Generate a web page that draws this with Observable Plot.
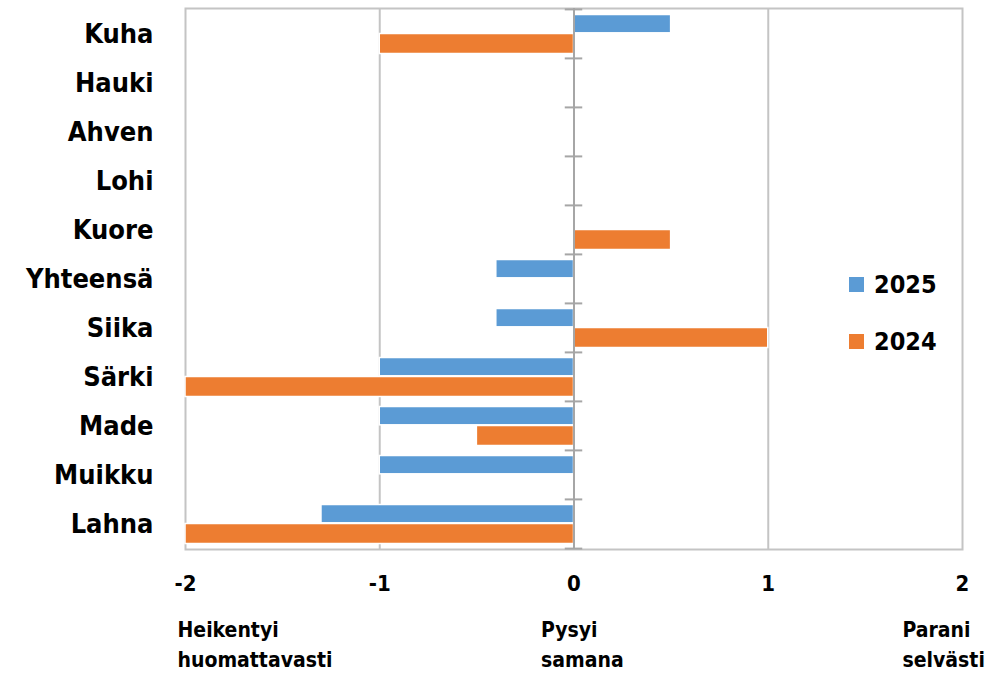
<!DOCTYPE html>
<html>
<head>
<meta charset="utf-8">
<script src="https://cdn.jsdelivr.net/npm/d3@7"></script>
<script src="https://cdn.jsdelivr.net/npm/@observablehq/plot@0.6"></script>
<style>
  html, body { margin: 0; padding: 0; background: #fff; }
  #wrap { position: relative; width: 1004px; height: 673px; font-family: "Liberation Sans Narrow", "DejaVu Sans Condensed", sans-serif; }
  #legend { position: absolute; left: 849px; top: 269px; font-weight: bold; font-size: 25px; color: #000; }
  .li { display: flex; align-items: center; height: 30px; margin-bottom: 27px; }
  .sw { width: 15px; height: 15px; margin-right: 10px; }
</style>
</head>
<body>
<div id="wrap"><div id="legend"></div></div>
<script>
const categories = ["Kuha","Hauki","Ahven","Lohi","Kuore","Yhteensä","Siika","Särki","Made","Muikku","Lahna"];
const values2025 = [0.5, 0, 0, 0, 0, -0.4, -0.4, -1, -1, -1, -1.3];
const values2024 = [-1, 0, 0, 0, 0.5, 0, 1, -2, -0.5, 0, -2];
const years = ["2025", "2024"];
const colors = ["#5B9BD5", "#ED7D31"];
const xTicks = [-2, -1, 0, 1, 2];
const gridTicks = [-1, 1];
const leftLabel = ["Heikentyi\nhuomattavasti"];
const midLabel = ["Pysyi\nsamana"];
const rightLabel = ["Parani\nselvästi"];

const rows2025 = categories.map((c, i) => ({cat: c, value: values2025[i]}));
const rows2024 = categories.map((c, i) => ({cat: c, value: values2024[i]}));

const W = 1004, H = 673;
const mTop = 8, mBottom = 124, mLeft = 185, mRight = 42;
const band = (H - mTop - mBottom) / categories.length;
const font = "Liberation Sans Narrow, DejaVu Sans Condensed, sans-serif";
const labelStyle = {frameAnchor: "bottom", lineAnchor: "top", dy: 67, textAnchor: "start", fontSize: 21, fontWeight: "bold", lineHeight: 1.4, fill: "#000"};

const chart = Plot.plot({
  width: W, height: H,
  marginTop: mTop, marginBottom: mBottom, marginLeft: mLeft, marginRight: mRight,
  style: {fontFamily: font, background: "#fff", overflow: "visible"},
  x: {domain: [-2, 2], ticks: xTicks, label: null},
  y: {domain: categories, padding: 0, label: null},
  marks: [
    Plot.ruleX(gridTicks, {stroke: "#c4c4c4", strokeWidth: 2}),
    Plot.frame({stroke: "#c4c4c4", strokeWidth: 2}),
    Plot.barX(rows2025, {y: "cat", x: "value", fill: colors[0], stroke: "#fff", strokeWidth: 1.5, insetTop: 5.5, insetBottom: band - 24}),
    Plot.barX(rows2024, {y: "cat", x: "value", fill: colors[1], stroke: "#fff", strokeWidth: 1.5, insetTop: 24.5, insetBottom: 4.5}),
    Plot.ruleX([0], {stroke: "#a6a6a6", strokeWidth: 2}),
    Plot.ruleY(categories, {y: d => d, x1: -0.045, x2: 0.045, dy: -band / 2, stroke: "#a6a6a6", strokeWidth: 2}),
    Plot.ruleY(categories.slice(-1), {y: d => d, x1: -0.045, x2: 0.045, dy: band / 2, stroke: "#a6a6a6", strokeWidth: 2}),
    Plot.axisY({label: null, tickSize: 0, tickPadding: 32, fontSize: 27, fontWeight: "bold", fill: "#000"}),
    Plot.axisX({label: null, ticks: xTicks, tickSize: 0, tickPadding: 26, fontSize: 22, fontWeight: "bold", fill: "#000", tickFormat: d => d < 0 ? "-" + Math.abs(d) : String(d)}),
    Plot.text(leftLabel, {x: () => -2, text: d => d, dx: -8, ...labelStyle}),
    Plot.text(midLabel, {x: () => 0, text: d => d, dx: -33, ...labelStyle}),
    Plot.text(rightLabel, {x: () => 2, text: d => d, dx: -60, ...labelStyle})
  ]
});
document.getElementById("wrap").prepend(chart);

const legend = document.getElementById("legend");
years.forEach((y, i) => {
  const li = document.createElement("div");
  li.className = "li";
  const sw = document.createElement("div");
  sw.className = "sw";
  sw.style.background = colors[i];
  const t = document.createElement("span");
  t.textContent = y;
  li.appendChild(sw); li.appendChild(t);
  legend.appendChild(li);
});
</script>
</body>
</html>
